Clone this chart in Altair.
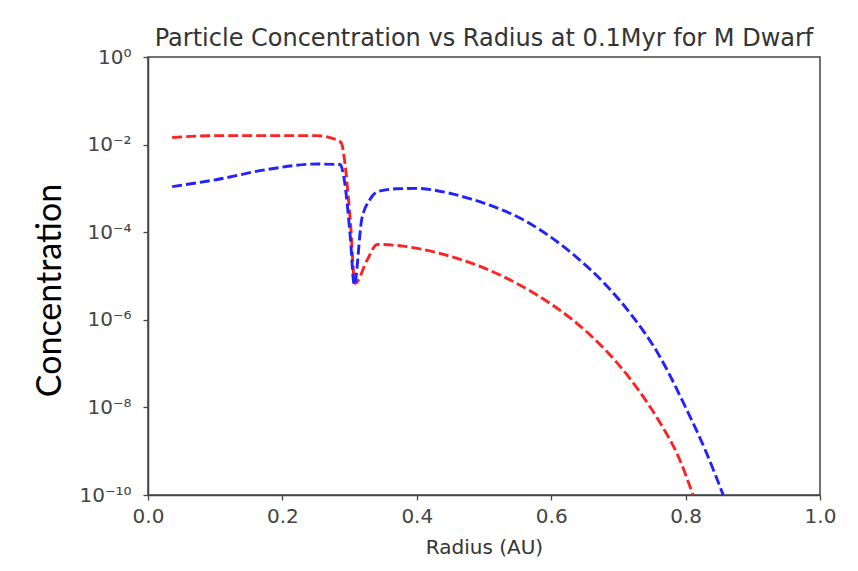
import altair as alt
import pandas as pd

# ---- data ----
red_radius = [0.036, 0.10, 0.20, 0.25, 0.280, 0.288, 0.292, 0.301, 0.308, 0.326,
              0.341, 0.38, 0.43, 0.48, 0.53, 0.58, 0.63, 0.68, 0.72, 0.76,
              0.79, 0.811]
red_conc = [1.45e-2, 1.6e-2, 1.6e-2, 1.6e-2, 1.3e-2, 1.07e-2, 5.0e-3, 1.9e-4, 6.8e-6, 2.3e-5,
            5.25e-5, 4.8e-5, 3.4e-5, 2.0e-5, 9.5e-6, 3.6e-6, 1.05e-6, 2.1e-7, 4.0e-8, 5.0e-9,
            7.1e-10, 1.0e-10]

blue_radius = [0.036, 0.103, 0.177, 0.251, 0.286, 0.292, 0.301, 0.307, 0.318, 0.330,
               0.342, 0.37, 0.40, 0.44, 0.48, 0.52, 0.56, 0.60, 0.64, 0.68,
               0.72, 0.76, 0.80, 0.83, 0.856]
blue_conc = [1.1e-3, 1.6e-3, 2.7e-3, 3.6e-3, 3.5e-3, 1.6e-3, 7.9e-5, 6.3e-6, 1.95e-4, 5.5e-4,
             8.5e-4, 9.8e-4, 1.0e-3, 8.3e-4, 5.75e-4, 3.55e-4, 1.86e-4, 7.6e-5, 2.5e-5, 6.6e-6,
             1.26e-6, 1.6e-7, 1.0e-8, 1.0e-9, 1.0e-10]

x_ticks = [0.0, 0.2, 0.4, 0.6, 0.8, 1.0]
y_ticks = [1, 1e-2, 1e-4, 1e-6, 1e-8, 1e-10]
y_exponents = [0, -2, -4, -6, -8, -10]
y_tick_labels = ["10⁰", "10⁻²", "10⁻⁴", "10⁻⁶", "10⁻⁸", "10⁻¹⁰"]

title_text = "Particle Concentration vs Radius at 0.1Myr for M Dwarf"

red_df = pd.DataFrame({"radius": red_radius, "conc": red_conc})
blue_df = pd.DataFrame({"radius": blue_radius, "conc": blue_conc})

label_expr = " : ".join(
    f"round(log(datum.value)/LN10) == {e} ? '{lab}'" for e, lab in zip(y_exponents, y_tick_labels)
) + " : ''"

x_enc = alt.X(
    "radius:Q",
    scale=alt.Scale(domain=[0, 1], nice=False),
    axis=alt.Axis(
        values=x_ticks, format=".1f", title="Radius (AU)", labelFlush=False,
        labelPadding=6,
        titleFont="DejaVu Sans", titleFontSize=20, titleFontWeight="normal",
        titleColor="#333", titlePadding=11,
    ),
)
y_enc = alt.Y(
    "conc:Q",
    scale=alt.Scale(type="log", domain=[1e-10, 1], nice=False),
    axis=alt.Axis(
        values=y_ticks, labelExpr=label_expr, title="Concentration", labelPadding=12,
        titleFont="Lato", titleFontSize=34, titleFontWeight="normal", titleColor="#000",
        titleAngle=270, titleAlign="center", titleBaseline="middle",
        titleX=-98, titleY=233,
    ),
)

red_line = alt.Chart(red_df).mark_line(
    color="#f22", strokeWidth=2.9, strokeDash=[10, 4], interpolate="monotone", clip=True
).encode(x=x_enc, y=y_enc)

blue_line = alt.Chart(blue_df).mark_line(
    color="#22f", strokeWidth=2.9, strokeDash=[10, 4], interpolate="monotone", clip=True
).encode(x=x_enc, y=y_enc)

chart = alt.layer(red_line, blue_line).properties(
    width=672,
    height=438,
    autosize=alt.AutoSizeParams(type="none"),
    padding={"left": 140, "top": 49, "right": 28, "bottom": 66},
    background="white",
    title=alt.TitleParams(
        text=title_text, font="DejaVu Sans", fontSize=24, fontWeight="normal",
        color="#333", anchor="middle", offset=6, baseline="bottom", dy=34,
    ),
).configure_axis(
    labelFont="DejaVu Sans", labelFontSize=20, labelColor="#444",
    tickColor="#444", tickSize=5, tickWidth=1.3,
    domainColor="#444", domainWidth=1.5, grid=False,
).configure_view(
    stroke="#444", strokeWidth=1.5,
)

chart.save("out.html", embed_options={"renderer": "svg", "actions": False})
